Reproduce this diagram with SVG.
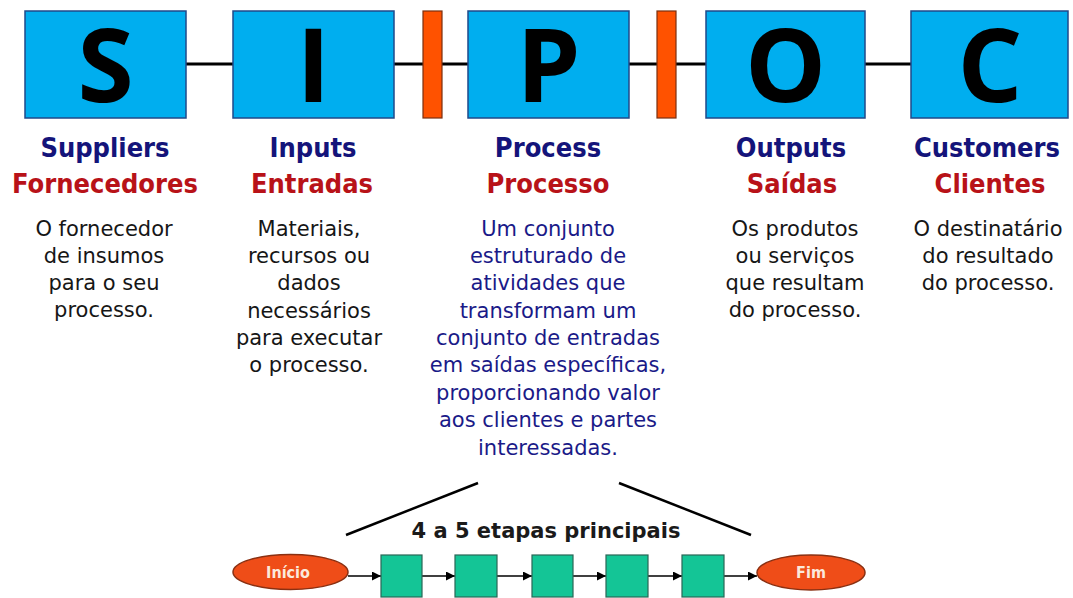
<svg xmlns="http://www.w3.org/2000/svg" width="1073" height="598" viewBox="0 0 1073 598">
<style>
.bg{fill:#ffffff}
.box{fill:#00aeef;stroke:#1f4a8a;stroke-width:1.5}
.bar{fill:#ff5200;stroke:#7a3010;stroke-width:1.2}
.big{font-family:"Open Sans","DejaVu Sans",sans-serif;font-weight:700;font-size:102px;fill:#000;text-anchor:middle}
.h1{font-family:"DejaVu Sans",sans-serif;font-stretch:condensed;font-weight:700;font-size:27px;fill:#14147a;text-anchor:middle}
.h2{font-family:"DejaVu Sans",sans-serif;font-stretch:condensed;font-weight:700;font-size:27px;fill:#b81218;text-anchor:middle}
.body{font-family:"DejaVu Sans",sans-serif;font-size:21px;fill:#161616;text-anchor:middle}
.pbody{font-family:"DejaVu Sans",sans-serif;font-size:21px;fill:#1a1a88;text-anchor:middle}
.etapas{font-family:"DejaVu Sans",sans-serif;font-weight:700;font-size:21px;fill:#1a1a1a;text-anchor:middle}
.step{fill:#14c596;stroke:#2a6656;stroke-width:1.2}
.oval{fill:#ef4d18;stroke:#8a3012;stroke-width:1.5}
.ovaltxt{font-family:"DejaVu Sans",sans-serif;font-stretch:condensed;font-weight:700;font-size:16px;fill:#fbe9dc;text-anchor:middle}
.conn{stroke:#000;stroke-width:3;fill:none}
.diag{stroke:#000;stroke-width:2.5;fill:none}
.arr{stroke:#000;stroke-width:1.5;fill:none;marker-end:url(#ah)}
</style>
<defs>
<marker id="ah" viewBox="0 0 10 10" refX="10" refY="5" markerWidth="6" markerHeight="6" markerUnits="strokeWidth" orient="auto">
<path d="M0,0 L10,5 L0,10 z" fill="#000"/>
</marker>
</defs>
<rect class="bg" x="0" y="0" width="1073" height="598"/>
<g id="connectors">
<line class="conn" x1="186" y1="64" x2="233" y2="64"/>
<line class="conn" x1="394" y1="64" x2="423" y2="64"/>
<line class="conn" x1="442" y1="64" x2="468" y2="64"/>
<line class="conn" x1="629" y1="64" x2="657" y2="64"/>
<line class="conn" x1="676" y1="64" x2="706" y2="64"/>
<line class="conn" x1="865" y1="64" x2="911" y2="64"/>
<line class="diag" x1="346" y1="535" x2="478" y2="483"/>
<line class="diag" x1="619" y1="483" x2="751" y2="535"/>
<line class="arr" x1="348" y1="576" x2="381" y2="576"/>
<line class="arr" x1="422" y1="576" x2="455" y2="576"/>
<line class="arr" x1="497" y1="576" x2="532" y2="576"/>
<line class="arr" x1="573" y1="576" x2="606" y2="576"/>
<line class="arr" x1="648" y1="576" x2="682" y2="576"/>
<line class="arr" x1="724" y1="576" x2="757" y2="576"/>
</g>
<g id="bar1"><rect class="bar" x="423" y="11" width="19" height="107"/></g>
<g id="bar2"><rect class="bar" x="657" y="11" width="19" height="107"/></g>
<g id="node-s">
<rect class="box" x="25" y="11" width="161" height="107"/>
<text class="big" x="105.5" y="102">S</text>
<text class="h1" x="105" y="157">Suppliers</text>
<text class="h2" x="105" y="193">Fornecedores</text>
<text class="body" x="104" y="236">O fornecedor</text>
<text class="body" x="104" y="263">de insumos</text>
<text class="body" x="104" y="290">para o seu</text>
<text class="body" x="104" y="317">processo.</text>
</g>
<g id="node-i">
<rect class="box" x="233" y="11" width="161" height="107"/>
<text class="big" x="313.5" y="102">I</text>
<text class="h1" x="313" y="157">Inputs</text>
<text class="h2" x="312" y="193">Entradas</text>
<text class="body" x="309" y="236">Materiais,</text>
<text class="body" x="309" y="263">recursos ou</text>
<text class="body" x="309" y="290">dados</text>
<text class="body" x="309" y="318">necessários</text>
<text class="body" x="309" y="345">para executar</text>
<text class="body" x="309" y="372">o processo.</text>
</g>
<g id="node-p">
<rect class="box" x="468" y="11" width="161" height="107"/>
<text class="big" x="548.5" y="102">P</text>
<text class="h1" x="548" y="157">Process</text>
<text class="h2" x="548" y="193">Processo</text>
<text class="pbody" x="548" y="236">Um conjunto</text>
<text class="pbody" x="548" y="263">estruturado de</text>
<text class="pbody" x="548" y="290">atividades que</text>
<text class="pbody" x="548" y="318">transformam um</text>
<text class="pbody" x="548" y="345">conjunto de entradas</text>
<text class="pbody" x="548" y="372">em saídas específicas,</text>
<text class="pbody" x="548" y="400">proporcionando valor</text>
<text class="pbody" x="548" y="427">aos clientes e partes</text>
<text class="pbody" x="548" y="455">interessadas.</text>
</g>
<g id="node-o">
<rect class="box" x="706" y="11" width="159" height="107"/>
<text class="big" x="785.5" y="102">O</text>
<text class="h1" x="791" y="157">Outputs</text>
<text class="h2" x="792" y="193">Saídas</text>
<text class="body" x="795" y="236">Os produtos</text>
<text class="body" x="795" y="263">ou serviços</text>
<text class="body" x="795" y="290">que resultam</text>
<text class="body" x="795" y="317">do processo.</text>
</g>
<g id="node-c">
<rect class="box" x="911" y="11" width="157" height="107"/>
<text class="big" x="990" y="102">C</text>
<text class="h1" x="987" y="157">Customers</text>
<text class="h2" x="990" y="193">Clientes</text>
<text class="body" x="988" y="236">O destinatário</text>
<text class="body" x="988" y="263">do resultado</text>
<text class="body" x="988" y="290">do processo.</text>
</g>
<g id="label-etapas"><text class="etapas" x="546" y="538">4 a 5 etapas principais</text></g>
<g id="node-inicio">
<ellipse class="oval" cx="290.5" cy="572" rx="57.5" ry="17.5"/>
<text class="ovaltxt" x="288" y="578">Início</text>
</g>
<g id="step1"><rect class="step" x="381" y="555" width="41" height="42"/></g>
<g id="step2"><rect class="step" x="455" y="555" width="42" height="42"/></g>
<g id="step3"><rect class="step" x="532" y="555" width="41" height="42"/></g>
<g id="step4"><rect class="step" x="606" y="555" width="42" height="42"/></g>
<g id="step5"><rect class="step" x="682" y="555" width="42" height="42"/></g>
<g id="node-fim">
<ellipse class="oval" cx="811" cy="572.5" rx="54" ry="17.5"/>
<text class="ovaltxt" x="811" y="578">Fim</text>
</g>
</svg>
